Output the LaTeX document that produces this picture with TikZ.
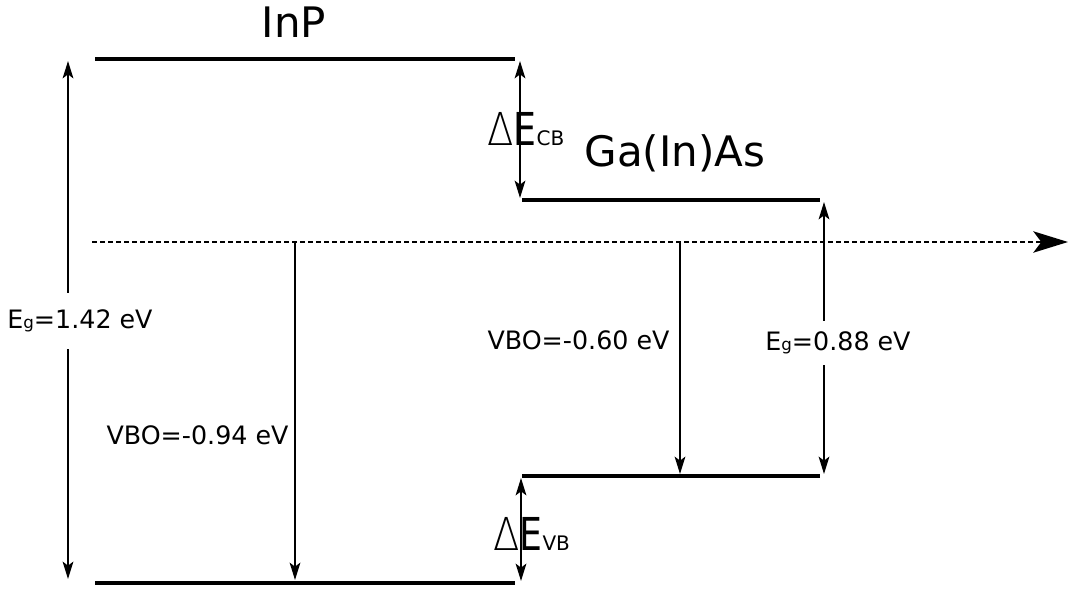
\documentclass[tikz,border=0pt]{standalone}
\usepackage{fontspec}
\usepackage{graphicx}
\setmainfont{DejaVu Sans}
\newfontfamily\thinfont{DejaVu Sans ExtraLight}
\usetikzlibrary{arrows.meta}
\newcommand{\EgLab}{E{\fontsize{12.5pt}{12.5pt}\selectfont g}}
\newcommand{\DeltaE}{{\fontsize{34pt}{34pt}\selectfont{\thinfont\scalebox{0.85}[1]{∆}}\scalebox{0.8}[1]{E}}}
\begin{document}
\begin{tikzpicture}[x=0.75pt,y=-0.75pt,
  level/.style={line width=3.2pt},
  tipS/.tip={Stealth[length=13pt,width=8pt,inset=3pt]},
  dim/.style={line width=1.6pt,tipS-tipS},
  downarrow/.style={line width=1.6pt,-tipS},
  axis/.style={line width=1.5pt,dash pattern=on 3.75pt off 2.25pt,-{Stealth[length=26pt,width=16pt,inset=6pt]}},
  lbl/.style={font=\fontsize{19pt}{21pt}\selectfont, inner sep=0pt},
  gap/.style={lbl,fill=white,inner xsep=2pt},
  sub/.style={font=\fontsize{15pt}{16pt}\selectfont, inner sep=0pt},
  title/.style={font=\fontsize{31.5pt}{34pt}\selectfont, inner sep=0pt}]
\useasboundingbox (0,0) rectangle (1072,592);
% level coordinates
\coordinate (inpCBl) at (95,59);
\coordinate (inpCBr) at (515,59);
\coordinate (inpVBl) at (95,583);
\coordinate (inpVBr) at (515,583);
\coordinate (gaCBl) at (522,200);
\coordinate (gaCBr) at (820,200);
\coordinate (gaVBl) at (522,476);
\coordinate (gaVBr) at (820,476);
\coordinate (d0) at (92,242);
\coordinate (d1) at (1068,242);
% arrow end points
\coordinate (egAt) at (68,61);
\coordinate (egAb) at (68,579);
\coordinate (dcbT) at (520,61);
\coordinate (dcbB) at (520,198);
\coordinate (dvbT) at (521,478);
\coordinate (dvbB) at (521,581);
\coordinate (vboAt) at (295,242);
\coordinate (vboAb) at (295,580);
\coordinate (vboBt) at (680,242);
\coordinate (vboBb) at (680,474);
\coordinate (egBt) at (824,202);
\coordinate (egBb) at (824,474);
% dashed reference line
\draw[axis] (d0) -- (d1);
% levels
\draw[level] (inpCBl) -- (inpCBr);
\draw[level] (inpVBl) -- (inpVBr);
\draw[level] (gaCBl) -- (gaCBr);
\draw[level] (gaVBl) -- (gaVBr);
% arrows
\draw[dim] (egAt) -- (egAb);
\draw[dim] (dcbT) -- (dcbB);
\draw[dim] (dvbT) -- (dvbB);
\draw[downarrow] (vboAt) -- (vboAb);
\draw[downarrow] (vboBt) -- (vboBb);
\draw[dim] (egBt) -- (egBb);
% labels
\node[title] (tInP) at (294,22) {InP};
\node[title] (tGa) at (675,153) {Ga(In)As};
\node[gap,inner ysep=12.5pt] (lEgA) at (80,321) {\EgLab=1.42 eV};
\node[gap,inner ysep=8pt] (lEgB) at (838,343) {\EgLab=0.88 eV};
\node[lbl] (lVboA) at (197.5,435.5) {VBO=-0.94 eV};
\node[lbl] (lVboB) at (578.5,340.5) {VBO=-0.60 eV};
\node[sub,anchor=base west] (lDcb) at (487,146) {\DeltaE CB};
\node[sub,anchor=base west] (lDvb) at (493,550) {\DeltaE VB};
\end{tikzpicture}
\end{document}
